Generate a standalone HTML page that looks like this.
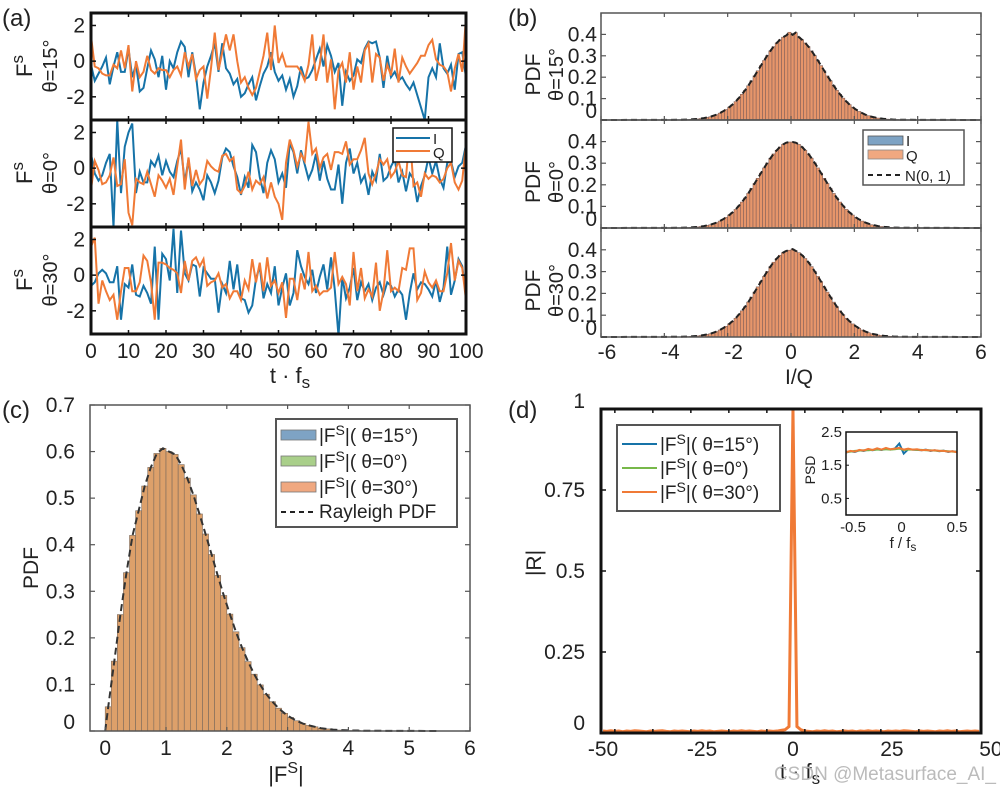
<!DOCTYPE html>
<html><head><meta charset="utf-8"><style>
html,body{margin:0;padding:0;background:#fff;}
svg{display:block;font-family:"Liberation Sans",Arial,sans-serif;}
</style></head><body>
<svg id="fig" width="1000" height="790" viewBox="0 0 1000 790"></svg>
<script>
// ---------- data ----------
const tAxis = [0,10,20,30,40,50,60,70,80,90,100];
const a15I=[-0.2,-1.1,-0.7,-0.3,0.2,-1.3,-0.3,0.5,-0.6,-0.6,0.7,-0.9,-0.2,-1.7,-1.5,-0.4,0.6,0.1,-0.9,0.3,-1.6,0,-0.4,0.5,1.1,0.8,-0.9,0.5,-0.8,-2.7,-1.2,-0.3,0.3,1.0,-0.6,1.0,-0.4,-0.7,-1.3,-1.0,-2.0,-1.8,-1.3,-0.9,-2.2,-1.4,-0.7,-0.3,0.5,-0.6,-1.1,-0.8,-1.6,-1.0,-2.0,-1.4,-0.3,-1.0,-0.9,-0.5,0.1,0.7,-0.3,0.9,0.3,-0.6,-0.1,-2.5,-0.6,-1.1,-0.8,0.1,-0.1,0.7,1.1,1.0,1.1,0.2,-1.5,0.3,-0.9,-0.6,-1.1,-0.9,-1.3,-1.6,-1.2,-1.9,-2.6,-3.3,-0.9,-0.4,-0.9,1.0,-0.4,-0.7,-0.2,-1.6,0.4,0.5,-0.9];
const a15Q=[1.4,-0.3,-0.4,-0.7,-0.8,-0.8,-0.2,-0.4,0.6,-0.4,0.9,-1.7,0,-0.9,-0.6,0.3,-0.5,-0.7,-0.4,-0.5,-0.5,-0.9,-0.5,-0.3,-0.8,0.5,-0.3,0.4,-1.0,-0.5,-0.3,-2.1,-0.4,1.6,-0.5,0.5,1.5,0.6,1.5,0,-1.2,-0.9,-1.5,-1.9,-1.5,-0.6,0.3,1.6,-0.5,2.0,-0.1,0.4,-0.3,-0.3,-0.3,-0.3,-0.6,-1.1,-0.2,1.5,-1.1,-0.2,1.5,-1.2,0.1,-2.7,-0.5,-0.1,-1.2,0.5,-1.6,-0.3,-1.2,0.6,1.0,-1.2,0.4,0.2,-1.1,-0.2,-0.8,0.7,-1.2,0.2,-0.3,-0.7,-0.4,-0.1,0.3,0.3,0.9,1.2,0.1,-0.2,-0.3,-0.6,-1.7,-0.4,0.4,-0.6,2.5];
const a0I=[0.8,-0.3,-0.7,-0.4,0.3,0.8,-3.3,2.7,-1.4,1.2,2.0,2.5,-1.4,-0.2,-0.8,-0.8,0.4,0.1,0.7,-0.4,0.4,-0.2,-0.5,0.4,1.1,-0.8,0.5,-1.3,-0.8,-1.2,-1.8,-0.4,-0.8,-1.4,-0.7,0.6,1.1,0.9,0.1,-0.5,-1.5,-0.5,-1.1,1.3,0.9,-0.5,-1.4,0.3,1.0,0.5,-0.8,-0.3,-1.1,1.4,0.9,-0.3,1.0,0.2,-0.6,-0.1,0.8,-0.7,0.4,-0.6,-1.2,-1.2,0.2,-2.0,0.3,1.1,-0.3,0.3,-0.8,-0.4,-1.5,-0.2,-0.7,0.8,-0.7,-0.5,0.1,0.5,-0.8,-0.2,-1.3,-0.3,-0.6,-1.9,-1.0,-0.4,0.6,-0.3,0.4,-0.6,-1.1,0.3,0.4,-0.5,0.1,0.3,1.3];
const a0Q=[-1.2,0.4,-0.1,-0.9,-0.8,-0.4,0.6,-1.0,-0.9,0.5,-2.5,-3.2,-0.6,-0.8,-0.9,-0.2,-0.9,-1.6,-0.4,-0.7,-1.1,-0.6,-1.5,0.1,1.6,-1.2,0.6,-1.0,-0.1,-0.9,-0.6,0.4,0.1,-0.1,-0.2,0.7,0.8,0.4,0.6,-1.2,-1.4,-1.0,-0.2,-1.2,-0.7,-0.9,-0.5,-1.7,-0.8,-1.6,-2.0,-2.9,0.3,1.6,1.0,0.1,0.8,0.4,2.6,0.8,1.1,0.0,0.6,0.8,-0.1,0.9,0.9,0.8,1.5,0.2,0.5,0.5,1.0,1.7,-0.3,-0.9,-0.3,0.5,0.2,0.5,-0.5,-0.2,0.4,-0.4,-0.5,1.9,-1.0,-0.8,-1.6,-0.3,-0.6,-0.4,-0.5,-0.8,-0.6,0.0,0.3,-0.8,-1.2,-0.7,1.4];
const a30I=[-0.6,-0.4,0.1,0.3,0.1,-0.4,-0.4,0.5,-2.5,-0.5,-0.7,0.6,-1.1,-1.2,-0.6,-1.0,-1.6,1.6,-2.5,1.2,0.9,-0.3,2.6,-1.0,2.5,0.1,-0.3,0.6,0.5,-1.2,0.4,0.1,-0.2,-0.2,-2.1,-0.5,-1.0,0.8,-0.8,0.6,-1.3,-1.4,-2.1,-1.7,-0.2,0.5,-1.3,-0.5,-1.0,0.5,-1.7,-0.7,0.1,-1.7,-1.0,1.4,0.5,-0.1,-0.5,0.3,-1.0,-0.1,0.6,-0.8,1.0,-0.8,-3.4,-0.1,-1.3,-0.7,0.4,-1.4,-0.4,-0.9,-0.5,-1.4,-0.7,-0.4,-1.1,-0.4,-0.6,-1.2,-0.8,-1.1,-2.5,-1.0,0.1,-0.8,-0.4,-0.5,-0.8,-1.2,-0.3,-1.5,-0.7,1.6,-1.1,-0.3,0.9,0.5,-1.2];
const a30Q=[1.6,2.1,-1.6,-0.3,-0.9,-1.4,-1.1,-2.5,-0.9,0.4,0.4,-0.9,-0.9,-0.4,1.1,0.8,-0.4,-2.5,0.7,0.7,0.6,0.4,0.3,0.1,-1.0,0.8,-0.3,0.8,1.0,0.5,0.9,-0.6,-0.4,-0.3,0.1,-0.7,-0.5,-1.3,-0.9,-0.9,-1.4,-0.3,-0.8,0.9,-0.4,0.7,-0.9,1.0,-0.6,-0.3,-1.0,-0.4,-2.4,-0.2,-0.2,-1.4,0.1,-0.8,1.3,-0.9,-0.6,-1.1,-0.9,-0.9,-0.7,1.3,-0.5,-0.1,-0.5,-1.7,1.3,-0.9,0.4,-1.3,-0.8,-1.2,0.7,-2.0,-0.9,1.4,-0.9,-0.7,-0.9,0.4,0.3,1.5,1.5,-1.4,-1.0,0.2,-0.4,-0.7,-0.3,-0.9,-0.9,0.1,1.8,-0.3,0.8,0.4,-1.4];

// Gaussian histogram (bins of 0.1 from -3.5 to 3.5)
const gaussBinStart = -3.5, gaussBinWidth = 0.1;
const pdf15=[0.001,0.002,0.002,0.003,0.004,0.005,0.007,0.009,0.012,0.015,0.020,0.025,0.032,0.040,0.049,0.060,0.072,0.086,0.102,0.120,0.139,0.160,0.183,0.206,0.230,0.254,0.278,0.301,0.323,0.343,0.360,0.375,0.387,0.395,0.410,0.398,0.408,0.387,0.375,0.360,0.343,0.323,0.301,0.278,0.254,0.230,0.206,0.183,0.160,0.139,0.120,0.102,0.086,0.072,0.060,0.049,0.040,0.032,0.025,0.020,0.015,0.012,0.009,0.007,0.005,0.004,0.003,0.002,0.002,0.001];
const pdf0=[0.001,0.002,0.002,0.003,0.004,0.005,0.007,0.009,0.012,0.015,0.020,0.025,0.032,0.040,0.049,0.060,0.072,0.086,0.102,0.120,0.139,0.160,0.183,0.206,0.230,0.254,0.278,0.301,0.323,0.343,0.360,0.375,0.387,0.395,0.398,0.398,0.395,0.387,0.375,0.360,0.343,0.323,0.301,0.278,0.254,0.230,0.206,0.183,0.160,0.139,0.120,0.102,0.086,0.072,0.060,0.049,0.040,0.032,0.025,0.020,0.015,0.012,0.009,0.007,0.005,0.004,0.003,0.002,0.002,0.001];
const pdf30=[0.001,0.002,0.002,0.003,0.004,0.005,0.007,0.009,0.012,0.015,0.020,0.025,0.032,0.040,0.049,0.060,0.072,0.086,0.102,0.120,0.139,0.160,0.183,0.206,0.230,0.254,0.278,0.301,0.323,0.343,0.360,0.375,0.387,0.395,0.398,0.403,0.395,0.387,0.375,0.360,0.343,0.323,0.301,0.278,0.254,0.230,0.206,0.183,0.160,0.139,0.120,0.102,0.086,0.072,0.060,0.049,0.040,0.032,0.025,0.020,0.015,0.012,0.009,0.007,0.005,0.004,0.003,0.002,0.002,0.001];
const bXTicks=[-6,-4,-2,0,2,4,6];
const bYTicks=[0,0.1,0.2,0.3,0.4];

// Rayleigh histogram (bins of 0.1 from 0)
const rayBinStart = 0, rayBinWidth = 0.1;
const rayPdf=[0.052,0.150,0.250,0.340,0.420,0.473,0.526,0.566,0.596,0.607,0.600,0.594,0.572,0.543,0.507,0.466,0.423,0.379,0.334,0.291,0.251,0.213,0.179,0.149,0.122,0.099,0.079,0.063,0.049,0.038,0.029,0.022,0.016,0.012,0.009,0.006,0.0045,0.003,0.002,0.0016,0.001,0.001,0.0005,0.0005];
const cXTicks=[0,1,2,3,4,5,6];
const cYTicks=[0,0.1,0.2,0.3,0.4,0.5,0.6,0.7];

// Autocorrelation, lags -48..47
const lagStart=-48;
const R30=[0.006,0.005,0.007,0.005,0.006,0.004,0.006,0.005,0.007,0.006,0.005,0.004,0.006,0.005,0.006,0.007,0.005,0.004,0.006,0.005,0.006,0.005,0.004,0.006,0.005,0.007,0.005,0.006,0.004,0.005,0.006,0.005,0.004,0.006,0.005,0.007,0.005,0.006,0.005,0.004,0.006,0.005,0.006,0.005,0.006,0.008,0.01,0.02,1.0,0.02,0.01,0.006,0.005,0.004,0.006,0.005,0.007,0.005,0.006,0.004,0.005,0.006,0.005,0.006,0.004,0.006,0.005,0.007,0.005,0.006,0.005,0.004,0.006,0.005,0.006,0.005,0.007,0.006,0.005,0.004,0.006,0.005,0.006,0.005,0.004,0.006,0.005,0.007,0.005,0.006,0.004,0.005,0.006,0.005,0.006,0.005];
const R15=R30.map(v=>v);
const R0=R30.map(v=>v);
const dXTicks=[-50,-25,0,25,50];
const dYTicks=[0,0.25,0.5,0.75,1];
const dYTickLabels=['0','0.25','0.5','0.75','1'];

// PSD inset, f from -0.5 to 0.5 step 0.04
const psdFStart=-0.5, psdFStep=0.04;
const psd15=[1.88,1.92,1.90,1.95,1.93,1.97,1.95,1.98,1.96,1.99,1.97,2.00,2.15,1.85,1.98,1.97,1.96,1.95,1.97,1.93,1.95,1.92,1.94,1.90,1.92,1.90];
const psd0=[1.90,1.91,1.93,1.94,1.95,1.95,1.96,1.97,1.97,1.98,1.97,1.98,2.00,1.96,1.97,1.97,1.96,1.96,1.95,1.95,1.94,1.93,1.93,1.92,1.91,1.90];
const psd30=[1.89,1.93,1.91,1.96,1.94,1.99,1.96,2.01,1.97,2.02,1.98,2.00,2.02,1.97,2.00,1.97,1.98,1.95,1.96,1.94,1.95,1.93,1.93,1.91,1.92,1.89];

// ---------- helpers ----------
const NS='http://www.w3.org/2000/svg';
const svg=document.getElementById('fig');
function mk(tag,attrs,parent){const e=document.createElementNS(NS,tag);for(const k in attrs)e.setAttribute(k,attrs[k]);(parent||svg).appendChild(e);return e;}
function lin(d0,d1,r0,r1){return v=>r0+(v-d0)/(d1-d0)*(r1-r0);}
function txt(x,y,s,size,anchor,parent){const t=mk('text',{x:x,y:y,'font-size':size,'text-anchor':anchor||'middle',fill:'#222'},parent);t.textContent=s;return t;}
const BLUE='#1673a8', ORANGE='#f07a36', GREEN='#77b84a';
const TK=21;

// panel labels
for (const [l,x,y] of [['(a)',2,26],['(b)',508,26],['(c)',2,418],['(d)',508,418]]){
  const t=txt(x,y,l,24,'start');
  
  
}

// ---------- Panel (a) ----------
const aX=lin(0,100,91,466);
const aSubs=[{top:13,I:a15I,Q:a15Q,th:'θ=15°'},{top:120,I:a0I,Q:a0Q,th:'θ=0°'},{top:227,I:a30I,Q:a30Q,th:'θ=30°'}];
aSubs.forEach((s,k)=>{
  const g=mk('g',{});
  
  
  const bot=s.top+107;
  const y=lin(-3.3,2.7,bot,s.top);
  const cp=mk('clipPath',{id:'ca'+k},g);
  mk('rect',{x:91,y:s.top,width:375,height:107},cp);
  for (const [arr,col,nm] of [[s.I,BLUE,'i'],[s.Q,ORANGE,'q']]){
    const p=mk('polyline',{points:arr.map((v,i)=>aX(i)+','+y(v)).join(' '),fill:'none',stroke:col,'stroke-width':2,'clip-path':'url(#ca'+k+')'},g);
    
    
  }
  const fr=mk('rect',{x:91,y:s.top,width:375,height:107,fill:'none',stroke:'#111','stroke-width':3},g);
  
  
  for (const v of [-2,0,2]){
    mk('line',{x1:91,x2:96,y1:y(v),y2:y(v),stroke:'#111','stroke-width':1.5},g);
    mk('line',{x1:461,x2:466,y1:y(v),y2:y(v),stroke:'#111','stroke-width':1.5},g);
    const t=txt(85,y(v)+7,v===0?'0':String(v),TK,'end',g);
    
    
  }
  for (const v of tAxis){
    mk('line',{x1:aX(v),x2:aX(v),y1:bot,y2:bot-4,stroke:'#111','stroke-width':1.5},g);
    mk('line',{x1:aX(v),x2:aX(v),y1:s.top,y2:s.top+4,stroke:'#111','stroke-width':1.5},g);
  }
  const cy=s.top+53;
  const yl=mk('text',{x:0,y:0,'font-size':22,'text-anchor':'middle',fill:'#222',transform:`translate(32,${cy}) rotate(-90)`},g);
  yl.innerHTML='F<tspan font-size="17" dy="-9">s</tspan>';
  
  
  const tl=mk('text',{x:0,y:0,'font-size':20,'text-anchor':'middle',fill:'#222',transform:`translate(57,${cy}) rotate(-90)`},g);
  tl.textContent=s.th;
  
  
});
for (const v of tAxis){
  const t=txt(aX(v),358,String(v),TK,'middle');
  
  
}
{const t=mk('text',{x:290,y:383,'font-size':22,'text-anchor':'middle',fill:'#222'});t.innerHTML='t · f<tspan font-size="17" dy="5">s</tspan>';

}
{const lg=mk('g',{});


mk('rect',{x:393,y:128,width:59,height:34,fill:'#fff',stroke:'#111','stroke-width':1.5},lg);
mk('line',{x1:396,x2:430,y1:138,y2:138,stroke:BLUE,'stroke-width':2},lg);
mk('line',{x1:396,x2:430,y1:151,y2:151,stroke:ORANGE,'stroke-width':2},lg);
txt(433,144,'I',15,'start',lg); txt(433,158,'Q',15,'start',lg);}

// ---------- Panel (b) ----------
const bX=lin(-6,6,601,981);
const bSubs=[{top:13,bot:120,d:pdf15,th:'θ=15°'},{top:120,bot:228,d:pdf0,th:'θ=0°'},{top:228,bot:337,d:pdf30,th:'θ=30°'}];
bSubs.forEach((s,k)=>{
  const g=mk('g',{});
  
  
  const y=lin(0,0.5,s.bot,s.top);
  s.d.forEach((v,i)=>{
    const x0=gaussBinStart+i*gaussBinWidth;
    const b=mk('rect',{x:bX(x0),y:y(v),width:bX(x0+gaussBinWidth)-bX(x0),height:s.bot-y(v),fill:'#e6956a',stroke:'#85625a','stroke-width':0.6},g);
    
    
  });
  const c=mk('polyline',{points:[[ -6,0],...s.d.map((v,i)=>[gaussBinStart+(i+0.5)*gaussBinWidth,v]),[6,0]].map(p=>bX(p[0])+','+y(p[1])).join(' '),fill:'none',stroke:'#222','stroke-width':2,'stroke-dasharray':'6,4'},g);
  
  
  mk('rect',{x:601,y:s.top,width:380,height:s.bot-s.top,fill:'none',stroke:'#555','stroke-width':1.5},g);
  for (const v of bYTicks){
    mk('line',{x1:601,x2:606,y1:y(v),y2:y(v),stroke:'#555','stroke-width':1.2},g);
    mk('line',{x1:976,x2:981,y1:y(v),y2:y(v),stroke:'#555','stroke-width':1.2},g);
    const t=txt(597,y(v)+(v===0?-2:7),v===0?'0':String(v),TK,'end',g);
    
    
  }
  for (const v of bXTicks){
    mk('line',{x1:bX(v),x2:bX(v),y1:s.bot,y2:s.bot-4,stroke:'#555','stroke-width':1.2},g);
    mk('line',{x1:bX(v),x2:bX(v),y1:s.top,y2:s.top+4,stroke:'#555','stroke-width':1.2},g);
  }
  const cy=(s.top+s.bot)/2+8;
  const yl=mk('text',{x:0,y:0,'font-size':21,'text-anchor':'middle',fill:'#222',transform:`translate(540,${cy}) rotate(-90)`},g);
  yl.textContent='PDF';
  
  
  const tl=mk('text',{x:0,y:0,'font-size':20,'text-anchor':'middle',fill:'#222',transform:`translate(563,${cy}) rotate(-90)`},g);
  tl.textContent=s.th;
  
  
});
for (const v of bXTicks){
  const t=txt(bX(v)+(v<0?6:0),359,String(v),TK,'middle');
  
  
}
{const t=txt(799,384,'I/Q',21,'middle');

}
{const lg=mk('g',{});


mk('rect',{x:863,y:130,width:101,height:55,fill:'#fff',stroke:'#555','stroke-width':1.5},lg);
mk('rect',{x:868,y:136,width:35,height:9,fill:'#7ea3c4',stroke:'#555','stroke-width':0.8},lg);
mk('rect',{x:868,y:150,width:35,height:9,fill:'#f0a880',stroke:'#888','stroke-width':0.8},lg);
mk('line',{x1:868,x2:903,y1:175,y2:175,stroke:'#222','stroke-width':2,'stroke-dasharray':'5,4'},lg);
txt(906,146,'I',15,'start',lg); txt(906,161,'Q',15,'start',lg); txt(905,181,'N(0, 1)',15,'start',lg);}

// ---------- Panel (c) ----------
const cX=lin(-0.25,6,90,470), cY=lin(0,0.7,731,405);
{const g=mk('g',{});


rayPdf.forEach((v,i)=>{
  const x0=rayBinStart+i*rayBinWidth;
  const b=mk('rect',{x:cX(x0),y:cY(v),width:cX(x0+rayBinWidth)-cX(x0),height:731-cY(v),fill:'#dda06a',stroke:'#7b6a5c','stroke-width':0.6},g);
  
  
});
const c=mk('polyline',{points:[[0,0],...rayPdf.map((v,i)=>[rayBinStart+(i+0.5)*rayBinWidth,v]),[5.5,0]].map(p=>cX(p[0])+','+cY(p[1])).join(' '),fill:'none',stroke:'#333','stroke-width':2,'stroke-dasharray':'7,4'},g);


mk('rect',{x:90,y:405,width:380,height:326,fill:'none',stroke:'#555','stroke-width':1.5},g);
for (const v of cYTicks){
  mk('line',{x1:90,x2:95,y1:cY(v),y2:cY(v),stroke:'#555','stroke-width':1.2},g);
  mk('line',{x1:465,x2:470,y1:cY(v),y2:cY(v),stroke:'#555','stroke-width':1.2},g);
  const t=txt(75,cY(v)+(v===0?-2:7),v===0?'0':String(v),TK,'end',g);
  
  
}
for (const v of cXTicks){
  mk('line',{x1:cX(v),x2:cX(v),y1:731,y2:727,stroke:'#555','stroke-width':1.2},g);
  mk('line',{x1:cX(v),x2:cX(v),y1:405,y2:409,stroke:'#555','stroke-width':1.2},g);
  const t=txt(cX(v),755,String(v),TK,'middle',g);
  
  
}
const yl=mk('text',{x:0,y:0,'font-size':21,'text-anchor':'middle',fill:'#222',transform:'translate(38,568) rotate(-90)'},g);
yl.textContent='PDF';


const xl=mk('text',{x:286,y:782,'font-size':22,'text-anchor':'middle',fill:'#222'},g);
xl.innerHTML='|F<tspan font-size="16" dy="-9">S</tspan><tspan dy="9">|</tspan>';


const lg=mk('g',{},g);


mk('rect',{x:276,y:419,width:181,height:108,fill:'#fff',stroke:'#555','stroke-width':2},lg);
const lc=[['#7ea3c4','θ=15°'],['#a9cf8a','θ=0°'],['#f0a880','θ=30°']];
lc.forEach((e,i)=>{const yy=435+i*26;
  mk('rect',{x:281,y:yy-5,width:35,height:10,fill:e[0],stroke:'#777','stroke-width':0.8},lg);
  const t=mk('text',{x:319,y:yy+7,'font-size':19,fill:'#222'},lg);
  t.innerHTML='|F<tspan font-size="14" dy="-7">S</tspan><tspan dy="7">|( '+e[1]+')</tspan>';
});
mk('line',{x1:281,x2:316,y1:512,y2:512,stroke:'#222','stroke-width':2,'stroke-dasharray':'5,4'},lg);
txt(319,518,'Rayleigh PDF',19,'start',lg);}

// ---------- Panel (d) ----------
const dX=lin(-48.5,47.5,601,981), dY=lin(0,1,733,409);
{const g=mk('g',{});


const cp=mk('clipPath',{id:'cd'},g);
mk('rect',{x:601,y:409,width:380,height:324},cp);
for (const [arr,col,w,nm] of [[R15,BLUE,2,'r-theta15-line'],[R0,GREEN,2,'r-theta0-line'],[R30,ORANGE,3,'r-theta30-line']]){
  const p=mk('polyline',{points:arr.map((v,i)=>dX(lagStart+i)+','+dY(v)).join(' '),fill:'none',stroke:col,'stroke-width':w,'clip-path':'url(#cd)'},g);
  
  
}
mk('rect',{x:601,y:409,width:380,height:324,fill:'none',stroke:'#111','stroke-width':3},g);
dYTicks.forEach((v,i)=>{
  mk('line',{x1:601,x2:606,y1:dY(v),y2:dY(v),stroke:'#111','stroke-width':1.5},g);
  mk('line',{x1:976,x2:981,y1:dY(v),y2:dY(v),stroke:'#111','stroke-width':1.5},g);
  const t=txt(585,dY(v)+(v===0?-3:v===1?-1:7),dYTickLabels[i],TK,'end',g);
  
  
});
for (let v=-45;v<=45;v+=9.6){mk('line',{x1:dX(v),x2:dX(v),y1:733,y2:729,stroke:'#111','stroke-width':1.5},g);mk('line',{x1:dX(v),x2:dX(v),y1:409,y2:413,stroke:'#111','stroke-width':1.5},g);}
for (const v of dXTicks){
  const t=txt(dX(v)+(v<0?8:0),756,String(v),TK,'middle',g);
  
  
}
const yl=mk('text',{x:0,y:0,'font-size':21,'text-anchor':'middle',fill:'#222',transform:'translate(541,563) rotate(-90)'},g);
yl.textContent='|R|';


const xl=mk('text',{x:800,y:779,'font-size':22,'text-anchor':'middle',fill:'#222'},g);
xl.innerHTML='t · f<tspan font-size="17" dy="5">s</tspan>';


const lg=mk('g',{},g);


mk('rect',{x:617,y:425,width:163,height:86,fill:'#fff',stroke:'#555','stroke-width':2},lg);
[[BLUE,'θ=15°'],[GREEN,'θ=0°'],[ORANGE,'θ=30°']].forEach((e,i)=>{const yy=444+i*24;
  mk('line',{x1:622,x2:657,y1:yy,y2:yy,stroke:e[0],'stroke-width':2},lg);
  const t=mk('text',{x:660,y:yy+7,'font-size':19,fill:'#222'},lg);
  t.innerHTML='|F<tspan font-size="14" dy="-7">S</tspan><tspan dy="7">|( '+e[1]+')</tspan>';
});
// inset
const ig=mk('g',{},g);


const iX=lin(-0.5,0.5,846,957), iY=lin(0,2.5,515,432);
mk('rect',{x:846,y:432,width:111,height:83,fill:'#fff'},ig);
for (const [arr,col,nm] of [[psd15,BLUE,'psd-theta15'],[psd0,GREEN,'psd-theta0'],[psd30,ORANGE,'psd-theta30']]){
  const p=mk('polyline',{points:arr.map((v,i)=>iX(psdFStart+i*psdFStep)+','+iY(v)).join(' '),fill:'none',stroke:col,'stroke-width':2},ig);
  
  
}
mk('rect',{x:846,y:432,width:111,height:83,fill:'none',stroke:'#111','stroke-width':1.5},ig);
for (const v of [0.5,1.5,2.5]){mk('line',{x1:846,x2:849,y1:iY(v),y2:iY(v),stroke:'#111'},ig);txt(842,iY(v)+5,String(v),15,'end',ig);}
for (const v of [-0.5,0,0.5]){txt(iX(v)+(v<0?7:0),532,String(v),15,'middle',ig);}
const ipl=mk('text',{x:0,y:0,'font-size':14,'text-anchor':'middle',fill:'#222',transform:'translate(815,470) rotate(-90)'},ig);
ipl.textContent='PSD';
const ixl=mk('text',{x:903,y:548,'font-size':15,'text-anchor':'middle',fill:'#222'},ig);
ixl.innerHTML='f / f<tspan font-size="12" dy="3">s</tspan>';}

// watermark
{const w=txt(996,780,'CSDN @Metasurface_AI_',19,'end');
w.setAttribute('fill','#bbb');

}
</script>
</body></html>
